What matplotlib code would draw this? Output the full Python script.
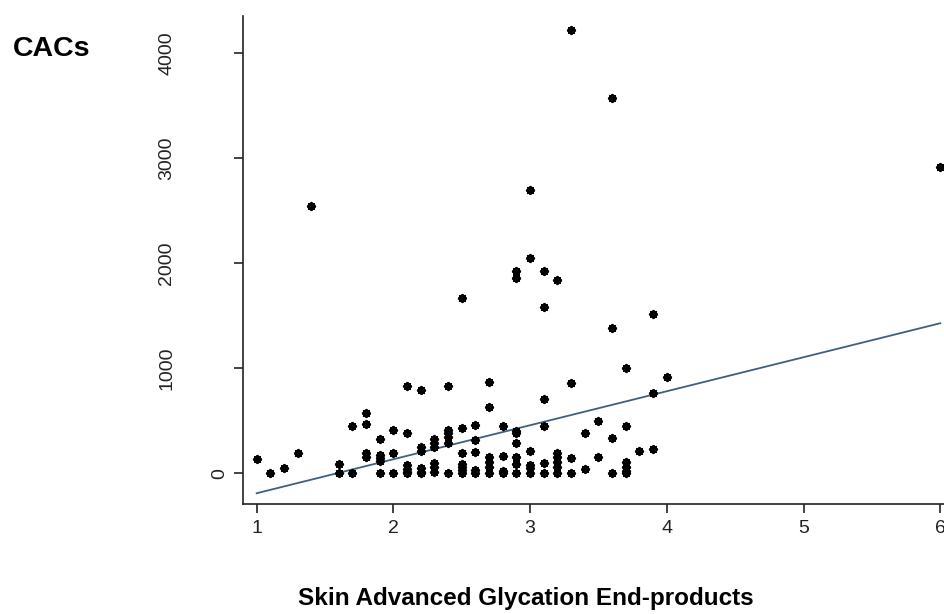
import matplotlib
matplotlib.use("Agg")
import matplotlib.pyplot as plt
import matplotlib.transforms as mtransforms
import numpy as np

plt.rcParams['font.family'] = ['Liberation Sans', 'DejaVu Sans']

# Skin AGE values (x) and CAC scores (y)
age_x = (
    [1.0, 1.1, 1.2, 1.3, 1.4]
    + [1.6] * 2 + [1.7] * 2 + [1.8] * 4 + [1.9] * 5 + [2.0] * 3
    + [2.1] * 6 + [2.2] * 6 + [2.3] * 6 + [2.4] * 6 + [2.5] * 7
    + [2.6] * 5 + [2.7] * 6 + [2.8] * 4 + [2.9] * 8 + [3.0] * 6
    + [3.1] * 6 + [3.2] * 6 + [3.3] * 4 + [3.4] * 2 + [3.5] * 2
    + [3.6] * 4 + [3.7] * 6 + [3.8] + [3.9] * 3 + [4.0] + [6.0]
)
cac_y = (
    [136, 0, 48, 196, 2540]
    + [88, 0]
    + [450, 0]
    + [570, 466, 190, 152]
    + [329, 174, 143, 120, 0]
    + [412, 196, 0]
    + [830, 380, 80, 40, 10, 0]
    + [792, 253, 215, 48, 16, 0]
    + [323, 285, 253, 100, 63, 15]
    + [830, 412, 380, 348, 285, 0]
    + [1670, 428, 196, 92, 60, 30, 0]
    + [460, 320, 206, 30, 0]
    + [865, 628, 158, 110, 63, 5]
    + [453, 165, 20, 5]
    + [1920, 1860, 405, 380, 285, 158, 86, 5]
    + [2690, 2050, 215, 79, 48, 5]
    + [1924, 1579, 704, 453, 95, 5]
    + [1838, 196, 158, 110, 63, 5]
    + [4216, 862, 148, 5]
    + [380, 38]
    + [500, 158]
    + [3570, 1379, 333, 0]
    + [998, 453, 110, 63, 25, 0]
    + [212]
    + [1515, 767, 228]
    + [913]
    + [2915]
)

# Fitted regression line
fit_intercept = -513.4
fit_slope = 323.4
fit_range = [1, 6]

x_ticks = [1, 2, 3, 4, 5, 6]
y_ticks = [0, 1000, 2000, 3000, 4000]

fig = plt.figure(figsize=(9.45, 6.14), dpi=100)
ax = fig.add_axes([0.2568, 0.1787, 1 - 0.2568, 0.9744 - 0.1787])

ax.scatter(age_x, cac_y, marker=(8, 2, 0), s=26, linewidths=1.6,
           color='black', zorder=3)

lx = np.array(fit_range, dtype=float)
ax.plot(lx, fit_intercept + fit_slope * lx, color='#3f5f80', lw=1.3, zorder=2)

ax.set_xlim(0.8976, 6.035)
ax.set_ylim(-295, 4352)

for s in ['top', 'right']:
    ax.spines[s].set_visible(False)
for s in ['left', 'bottom']:
    ax.spines[s].set_linewidth(1.2)
    ax.spines[s].set_color('#222222')

ax.set_xticks(x_ticks)
ax.set_xticklabels([str(v) for v in x_ticks])
ax.set_yticks(y_ticks)
ax.set_yticklabels([str(v) for v in y_ticks], rotation=90, va='center', ha='center')
ax.tick_params(axis='both', length=6.5, width=1.2, color='#222222',
               labelsize=14, labelcolor='#222222')
ax.tick_params(axis='x', pad=5)
ax.tick_params(axis='y', pad=48)

# the "0" label sits closer to the axis
lbl0 = ax.yaxis.get_major_ticks()[0].label1
lbl0.set_transform(lbl0.get_transform() +
                   mtransforms.ScaledTranslation(0.53, 0, fig.dpi_scale_trans))

fig.text(13 / 945, 1 - 49 / 614, 'CACs', fontsize=20.5, fontweight='bold',
         ha='left', va='center', color='black')
fig.text(526 / 945, 1 - 599 / 614, 'Skin Advanced Glycation End-products',
         fontsize=17.5, fontweight='bold', ha='center', va='center', color='black')

fig.savefig('out.png', dpi=100)
